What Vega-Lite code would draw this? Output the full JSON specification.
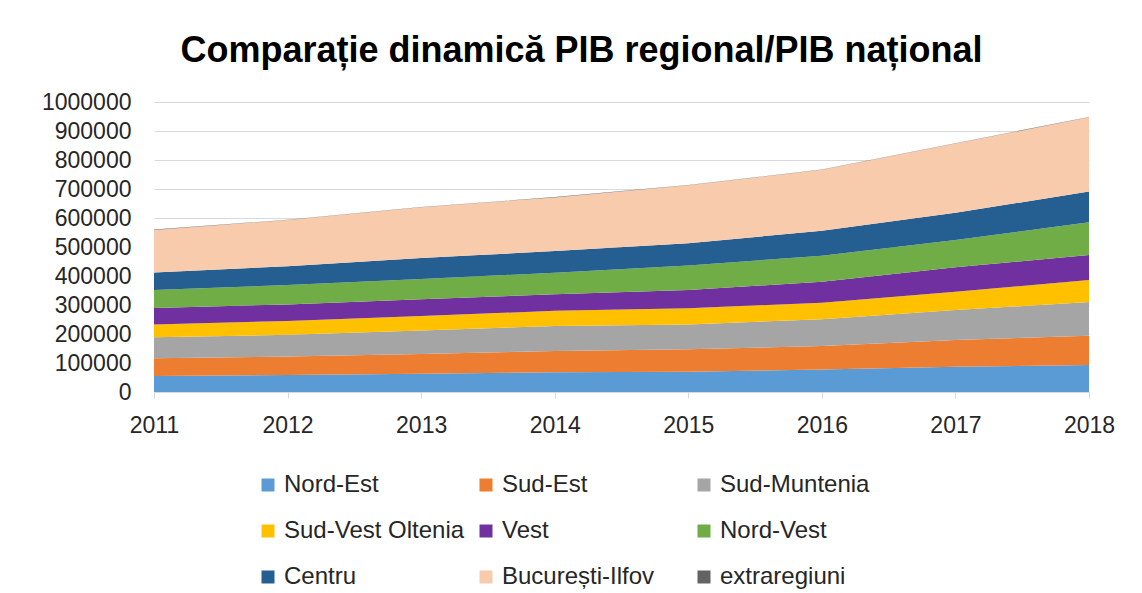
{
  "$schema": "https://vega.github.io/schema/vega-lite/v6.json",
  "autosize": {"type": "none"},
  "width": 935,
  "height": 290,
  "padding": {"left": 154, "top": 102, "right": 53, "bottom": 201},
  "background": "white",
  "title": {
    "text": "Comparație dinamică PIB regional/PIB național",
    "font": "Liberation Sans",
    "fontSize": 36,
    "fontWeight": "bold",
    "color": "#000000",
    "anchor": "middle",
    "baseline": "alphabetic",
    "offset": -7,
    "dx": -40
  },
  "data": {
    "values": [
      {"year": 2011, "region": "Nord-Est", "k": 1, "v": 55000},
      {"year": 2012, "region": "Nord-Est", "k": 1, "v": 59000},
      {"year": 2013, "region": "Nord-Est", "k": 1, "v": 63000},
      {"year": 2014, "region": "Nord-Est", "k": 1, "v": 68000},
      {"year": 2015, "region": "Nord-Est", "k": 1, "v": 70000},
      {"year": 2016, "region": "Nord-Est", "k": 1, "v": 78000},
      {"year": 2017, "region": "Nord-Est", "k": 1, "v": 87000},
      {"year": 2018, "region": "Nord-Est", "k": 1, "v": 93000},
      {"year": 2011, "region": "Sud-Est", "k": 2, "v": 61000},
      {"year": 2012, "region": "Sud-Est", "k": 2, "v": 63000},
      {"year": 2013, "region": "Sud-Est", "k": 2, "v": 68000},
      {"year": 2014, "region": "Sud-Est", "k": 2, "v": 73000},
      {"year": 2015, "region": "Sud-Est", "k": 2, "v": 77000},
      {"year": 2016, "region": "Sud-Est", "k": 2, "v": 81000},
      {"year": 2017, "region": "Sud-Est", "k": 2, "v": 92000},
      {"year": 2018, "region": "Sud-Est", "k": 2, "v": 101000},
      {"year": 2011, "region": "Sud-Muntenia", "k": 3, "v": 73000},
      {"year": 2012, "region": "Sud-Muntenia", "k": 3, "v": 75000},
      {"year": 2013, "region": "Sud-Muntenia", "k": 3, "v": 81000},
      {"year": 2014, "region": "Sud-Muntenia", "k": 3, "v": 87000},
      {"year": 2015, "region": "Sud-Muntenia", "k": 3, "v": 86000},
      {"year": 2016, "region": "Sud-Muntenia", "k": 3, "v": 92000},
      {"year": 2017, "region": "Sud-Muntenia", "k": 3, "v": 104000},
      {"year": 2018, "region": "Sud-Muntenia", "k": 3, "v": 116000},
      {"year": 2011, "region": "Sud-Vest Oltenia", "k": 4, "v": 44000},
      {"year": 2012, "region": "Sud-Vest Oltenia", "k": 4, "v": 48000},
      {"year": 2013, "region": "Sud-Vest Oltenia", "k": 4, "v": 50000},
      {"year": 2014, "region": "Sud-Vest Oltenia", "k": 4, "v": 52000},
      {"year": 2015, "region": "Sud-Vest Oltenia", "k": 4, "v": 56000},
      {"year": 2016, "region": "Sud-Vest Oltenia", "k": 4, "v": 57000},
      {"year": 2017, "region": "Sud-Vest Oltenia", "k": 4, "v": 63000},
      {"year": 2018, "region": "Sud-Vest Oltenia", "k": 4, "v": 76000},
      {"year": 2011, "region": "Vest", "k": 5, "v": 57000},
      {"year": 2012, "region": "Vest", "k": 5, "v": 57000},
      {"year": 2013, "region": "Vest", "k": 5, "v": 58000},
      {"year": 2014, "region": "Vest", "k": 5, "v": 57000},
      {"year": 2015, "region": "Vest", "k": 5, "v": 63000},
      {"year": 2016, "region": "Vest", "k": 5, "v": 72000},
      {"year": 2017, "region": "Vest", "k": 5, "v": 84000},
      {"year": 2018, "region": "Vest", "k": 5, "v": 86000},
      {"year": 2011, "region": "Nord-Vest", "k": 6, "v": 62000},
      {"year": 2012, "region": "Nord-Vest", "k": 6, "v": 67000},
      {"year": 2013, "region": "Nord-Vest", "k": 6, "v": 70000},
      {"year": 2014, "region": "Nord-Vest", "k": 6, "v": 74000},
      {"year": 2015, "region": "Nord-Vest", "k": 6, "v": 84000},
      {"year": 2016, "region": "Nord-Vest", "k": 6, "v": 90000},
      {"year": 2017, "region": "Nord-Vest", "k": 6, "v": 94000},
      {"year": 2018, "region": "Nord-Vest", "k": 6, "v": 113000},
      {"year": 2011, "region": "Centru", "k": 7, "v": 60000},
      {"year": 2012, "region": "Centru", "k": 7, "v": 65000},
      {"year": 2013, "region": "Centru", "k": 7, "v": 72000},
      {"year": 2014, "region": "Centru", "k": 7, "v": 75000},
      {"year": 2015, "region": "Centru", "k": 7, "v": 77000},
      {"year": 2016, "region": "Centru", "k": 7, "v": 86000},
      {"year": 2017, "region": "Centru", "k": 7, "v": 94000},
      {"year": 2018, "region": "Centru", "k": 7, "v": 106000},
      {"year": 2011, "region": "București-Ilfov", "k": 8, "v": 147000},
      {"year": 2012, "region": "București-Ilfov", "k": 8, "v": 159000},
      {"year": 2013, "region": "București-Ilfov", "k": 8, "v": 175000},
      {"year": 2014, "region": "București-Ilfov", "k": 8, "v": 185000},
      {"year": 2015, "region": "București-Ilfov", "k": 8, "v": 200000},
      {"year": 2016, "region": "București-Ilfov", "k": 8, "v": 210000},
      {"year": 2017, "region": "București-Ilfov", "k": 8, "v": 239000},
      {"year": 2018, "region": "București-Ilfov", "k": 8, "v": 256000},
      {"year": 2011, "region": "extraregiuni", "k": 9, "v": 1000},
      {"year": 2012, "region": "extraregiuni", "k": 9, "v": 1000},
      {"year": 2013, "region": "extraregiuni", "k": 9, "v": 1000},
      {"year": 2014, "region": "extraregiuni", "k": 9, "v": 1000},
      {"year": 2015, "region": "extraregiuni", "k": 9, "v": 1000},
      {"year": 2016, "region": "extraregiuni", "k": 9, "v": 1000},
      {"year": 2017, "region": "extraregiuni", "k": 9, "v": 1000},
      {"year": 2018, "region": "extraregiuni", "k": 9, "v": 1000}
    ]
  },
  "mark": {"type": "area", "interpolate": "linear"},
  "encoding": {
    "x": {
      "field": "year",
      "type": "quantitative",
      "scale": {"domain": [2011, 2018], "nice": false, "zero": false},
      "axis": {
        "title": null,
        "values": [2011, 2012, 2013, 2014, 2015, 2016, 2017, 2018],
        "format": "d",
        "grid": false,
        "domainColor": "#d9d9d9",
        "tickColor": "#d9d9d9",
        "tickSize": 6,
        "labelPadding": 16,
        "labelFont": "Liberation Sans",
        "labelFontSize": 23,
        "labelColor": "#262626",
        "labelFlush": false,
        "labelOverlap": false
      }
    },
    "y": {
      "field": "v",
      "type": "quantitative",
      "stack": "zero",
      "scale": {"domain": [0, 1000000], "nice": false},
      "axis": {
        "title": null,
        "values": [0, 100000, 200000, 300000, 400000, 500000, 600000, 700000, 800000, 900000, 1000000],
        "format": "d",
        "domain": false,
        "ticks": false,
        "tickSize": 0,
        "labelPadding": 23,
        "gridColor": "#d9d9d9",
        "gridWidth": 1,
        "labelFont": "Liberation Sans",
        "labelFontSize": 23,
        "labelColor": "#262626"
      }
    },
    "order": {"field": "k", "type": "quantitative"},
    "color": {
      "field": "region",
      "type": "nominal",
      "scale": {
        "domain": ["Nord-Est", "Sud-Est", "Sud-Muntenia", "Sud-Vest Oltenia", "Vest", "Nord-Vest", "Centru", "București-Ilfov", "extraregiuni"],
        "range": ["#5B9BD5", "#ED7D31", "#A5A5A5", "#FFC000", "#7030A0", "#70AD47", "#255E91", "#F8CBAD", "#636363"]
      },
      "legend": {
        "title": null,
        "orient": "none",
        "legendX": 102,
        "legendY": 371,
        "direction": "horizontal",
        "columns": 3,
        "gridAlign": "all",
        "columnPadding": 9,
        "rowPadding": 22,
        "padding": 0,
        "symbolType": "square",
        "symbolSize": 169,
        "symbolStrokeWidth": 0,
        "labelOffset": 4,
        "labelFont": "Liberation Sans",
        "labelFontSize": 24,
        "labelColor": "#262626",
        "labelLimit": 300
      }
    }
  },
  "config": {"view": {"stroke": null}}
}
